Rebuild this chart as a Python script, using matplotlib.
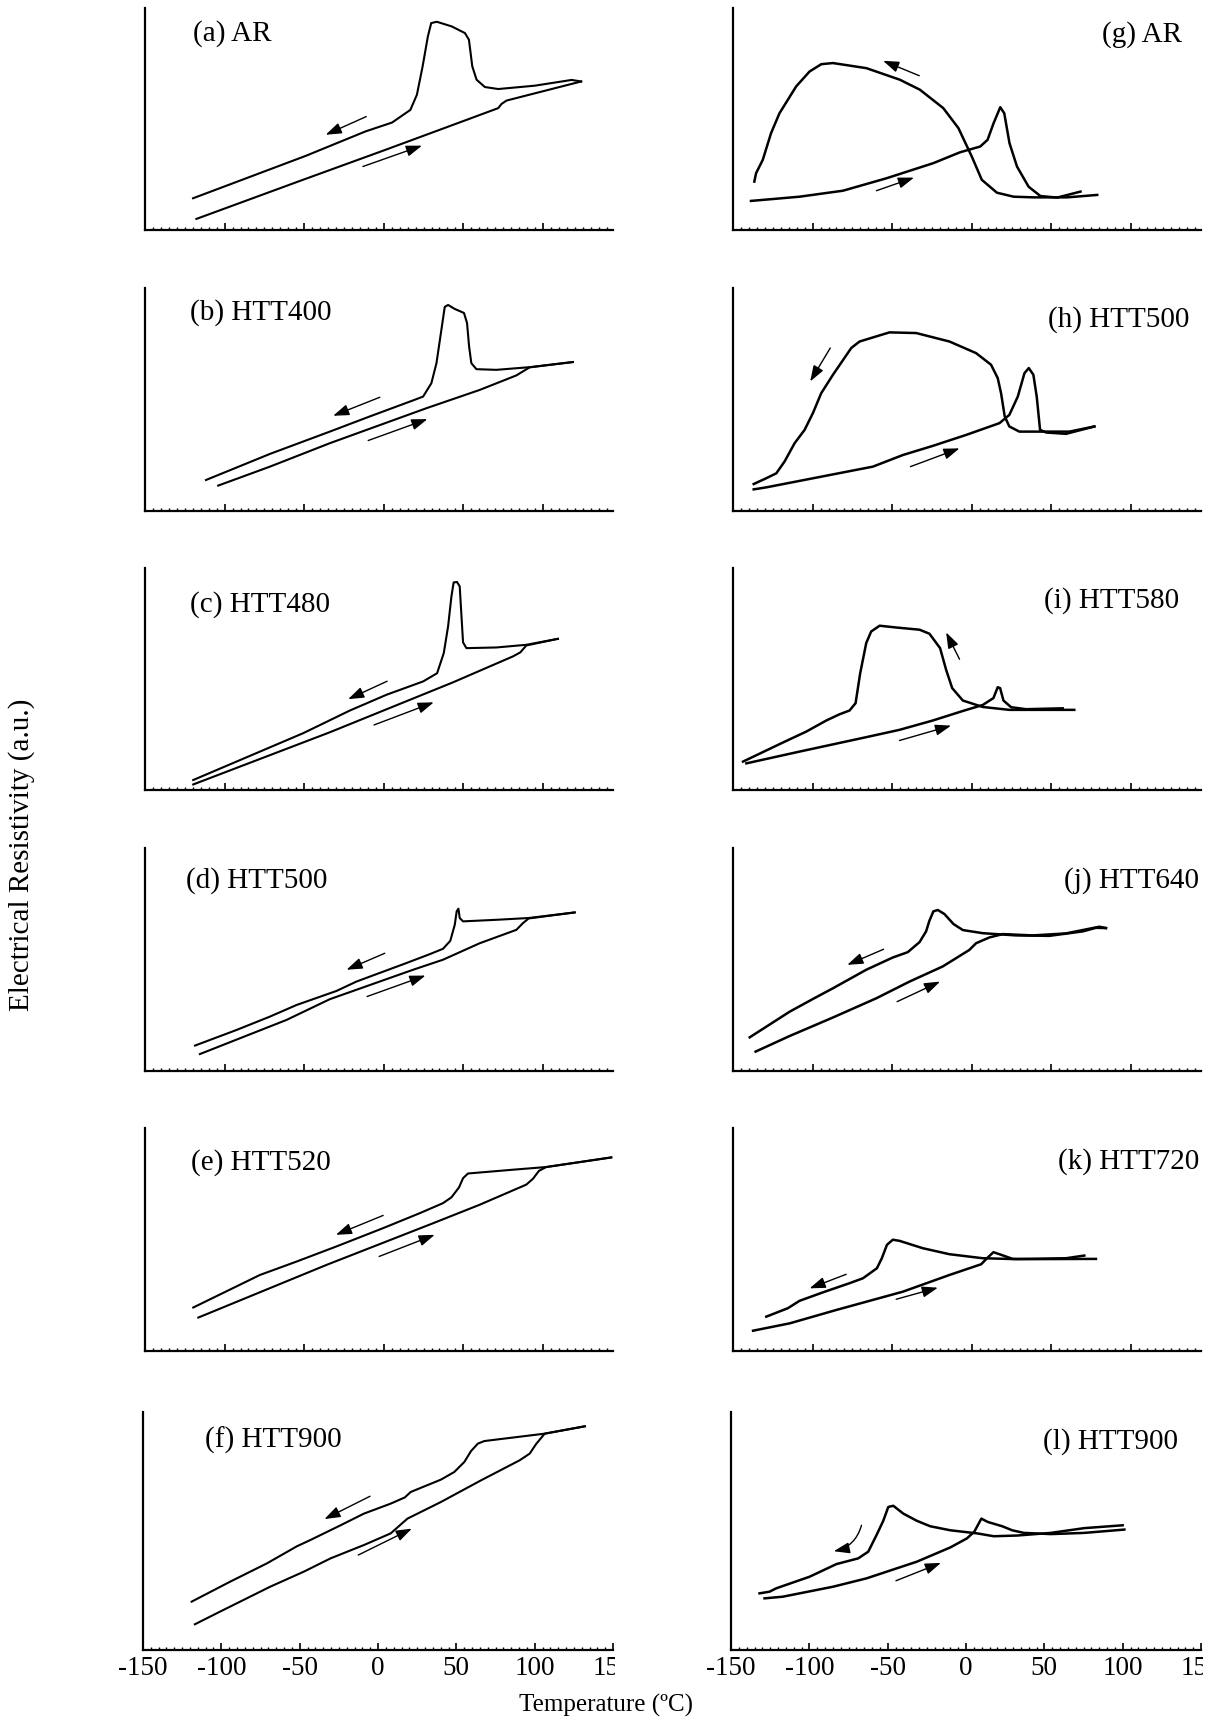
import matplotlib
matplotlib.use("Agg")
import matplotlib.pyplot as plt
from matplotlib.ticker import MultipleLocator, NullLocator
from matplotlib.transforms import Bbox, TransformedBbox

plt.rcParams["font.family"] = ["Liberation Serif", "DejaVu Serif"]

# (a) AR
A_HEAT_T = [-117.7, -53.1, 1.0, 53.1, 71.9, 74.0, 77.1, 124.0]
A_HEAT_R = [5.0, 22.0, 36.1, 49.9, 54.9, 56.8, 58.3, 66.9]
A_COOL_T = [124.0, 118.0, 94.8, 71.9, 63.5, 58.3, 55.6, 53.5, 51.0, 42.7, 33.3, 29.8,
            27.7, 24.4, 20.8, 16.7, 5.2, -11.5, -49.0, -119.8]
A_COOL_R = [66.9, 67.6, 65.0, 63.5, 64.4, 67.7, 73.7, 85.7, 88.7, 91.7, 93.8, 93.2,
            87.2, 73.7, 60.9, 54.1, 48.4, 44.4, 33.4, 14.3]

# (b) HTT400
B_HEAT_T = [-104.0, -71.5, -33.9, 26.8, 60.3, 83.3, 87.4, 91.6, 118.8]
B_HEAT_R = [11.4, 19.9, 30.4, 46.1, 54.3, 60.8, 62.6, 64.4, 66.8]
B_COOL_T = [118.8, 91.6, 70.7, 58.2, 55.0, 53.6, 52.3, 50.4, 44.6, 40.4, 38.3, 36.2,
            33.1, 29.9, 24.7, 18.4, -8.8, -33.9, -71.5, -111.7]
B_COOL_R = [66.8, 64.5, 63.3, 63.6, 66.3, 73.8, 84.3, 88.8, 90.6, 92.4, 91.5, 81.3,
            66.3, 57.3, 51.3, 49.6, 42.4, 35.6, 25.6, 13.9]

# (c) HTT480
C_HEAT_T = [-119.7, -33.9, 43.5, 81.2, 85.8, 89.5, 109.4]
C_HEAT_R = [2.5, 26.0, 48.5, 60.2, 62.0, 65.1, 68.1]
C_COOL_T = [109.4, 89.5, 70.7, 51.9, 49.8, 48.7, 47.7, 46.0, 43.9, 42.5, 40.4, 37.7,
            33.5, 24.7, 1.7, -21.3, -50.6, -119.7]
C_COOL_R = [68.1, 65.4, 64.2, 63.9, 66.5, 79.7, 91.7, 93.7, 93.5, 87.2, 73.7, 61.7,
            52.6, 48.9, 42.9, 35.8, 25.6, 4.5]

# (d) HTT500
D_HEAT_T = [-115.5, -61.1, -33.9, 18.4, 37.2, 60.3, 83.3, 87.4, 91.0, 119.9]
D_HEAT_R = [7.6, 22.9, 32.2, 45.4, 49.9, 57.3, 63.3, 66.3, 68.4, 71.1]
D_COOL_T = [119.9, 91.0, 70.7, 49.8, 47.7, 46.9, 45.8, 44.6, 41.8, 37.2, 28.9, 14.2,
            -17.2, -29.7, -54.8, -71.5, -92.5, -118.6]
D_COOL_R = [71.1, 68.6, 67.8, 67.1, 68.6, 72.8, 71.6, 65.6, 58.4, 54.8, 52.4, 48.4,
            40.1, 35.9, 29.6, 24.4, 18.4, 11.4]

# (e) HTT520
E_HEAT_T = [-116.5, -36.0, 31.0, 60.3, 89.5, 93.7, 97.5, 102.1, 142.9]
E_HEAT_R = [15.0, 38.6, 57.3, 65.6, 74.6, 77.2, 80.8, 82.5, 86.8]
E_COOL_T = [142.9, 102.1, 81.2, 52.9, 49.8, 47.3, 42.5, 37.2, 22.6, -0.4, -29.7,
            -54.8, -77.8, -119.7]
E_COOL_R = [86.8, 82.5, 81.3, 79.6, 77.5, 73.4, 68.9, 66.3, 61.8, 55.1, 46.9,
            40.1, 34.1, 19.5]

# (f) HTT900
F_HEAT_T = [-116.9, -100.9, -68.8, -47.4, -30.3, -9.0, 8.1, 18.8, 40.2, 65.8, 90.4,
            96.8, 101.1, 106.4, 132.1]
F_HEAT_R = [10.8, 16.1, 26.6, 32.9, 38.5, 44.1, 49.0, 55.2, 62.2, 71.3, 79.7,
            82.5, 86.7, 90.9, 94.0]
F_COOL_T = [132.1, 106.4, 67.9, 63.7, 59.4, 55.1, 48.7, 40.2, 20.9, 17.1, 8.1, -9.0,
            -23.9, -43.2, -51.7, -70.9, -94.4, -119.0]
F_COOL_R = [94.0, 90.9, 87.8, 86.7, 83.6, 79.0, 74.8, 71.6, 66.4, 64.1, 61.5, 57.3,
            52.4, 46.2, 43.6, 36.4, 28.7, 20.3]

# (g) AR
G_HEAT_T = [-138.7, -108.2, -80.9, -53.6, -24.2, -7.4, 5.3, 9.9, 13.7, 17.9, 20.4,
            23.7, 28.4, 35.7, 43.1, 53.6, 68.3]
G_HEAT_R = [13.1, 15.0, 17.7, 23.3, 30.1, 35.0, 37.6, 40.6, 48.1, 55.3, 52.6,
            39.1, 28.6, 19.5, 15.3, 14.6, 17.3]
G_COOL_T = [78.8, 59.9, 38.9, 26.3, 15.8, 6.3, 0.0, -8.4, -17.9, -32.6, -45.2, -66.2,
            -87.2, -94.5, -101.9, -110.3, -120.8, -126.1, -131.3, -135.5, -136.6]
G_COOL_R = [15.8, 14.7, 14.7, 15.0, 16.8, 22.6, 33.1, 45.9, 54.9, 63.2, 67.7, 72.9,
            75.2, 74.7, 71.4, 64.7, 52.6, 43.6, 31.6, 25.6, 21.8]

# (h) HTT500
H_HEAT_T = [-137.0, -129.1, -62.1, -43.3, -24.5, -3.6, 17.4, 23.6, 28.9, 33.1, 35.8,
            38.7, 40.8, 42.9, 46.7, 59.2, 77.0]
H_HEAT_R = [9.7, 10.6, 19.9, 25.1, 29.2, 34.1, 39.4, 43.1, 51.3, 61.8, 64.1,
            61.1, 51.3, 36.4, 35.2, 34.6, 37.9]
H_COOL_T = [77.0, 61.3, 45.6, 29.9, 23.6, 20.7, 18.4, 16.3, 12.1, 2.7, -14.0, -34.9,
            -51.7, -70.5, -75.7, -87.2, -94.6, -99.8, -105.0, -111.3, -117.6, -122.8,
            -129.1, -137.0]
H_COOL_R = [37.9, 35.6, 35.6, 35.6, 37.9, 42.4, 52.8, 59.6, 65.6, 70.8, 76.0, 79.8,
            80.1, 76.0, 73.1, 61.1, 52.8, 43.9, 36.4, 30.4, 22.2, 16.9, 14.7, 12.1]

# (i) HTT580
I_HEAT_T = [-141.6, -108.2, -66.3, -45.4, -24.5, -5.6, 6.9, 13.6, 16.3, 17.8, 19.9,
            24.7, 34.1, 57.1]
I_HEAT_R = [12.0, 17.3, 23.8, 27.1, 31.3, 35.6, 38.3, 41.4, 46.3, 45.9, 40.3,
            37.3, 36.4, 36.8]
I_COOL_T = [64.4, 48.7, 23.6, 6.9, -5.6, -12.3, -16.1, -19.9, -26.6, -32.8, -47.5,
            -57.9, -63.2, -66.3, -70.1, -73.0, -76.8, -83.1, -91.4, -104.0, -118.6, -143.7]
I_COOL_R = [36.1, 36.1, 36.1, 37.4, 40.3, 45.9, 54.1, 63.9, 70.4, 72.2, 73.2,
            74.0, 71.4, 66.2, 52.6, 39.1, 35.8, 34.1, 31.3, 26.3, 21.4, 12.8]

# (j) HTT640
J_HEAT_T = [-135.8, -114.4, -87.2, -60.0, -39.1, -18.2, -1.5, 2.7, 11.1, 19.5, 38.3,
            59.2, 80.1, 84.3]
J_HEAT_R = [8.7, 15.7, 24.0, 32.6, 40.1, 46.9, 54.3, 57.3, 59.9, 61.4, 60.8,
            61.7, 64.7, 64.1]
J_COOL_T = [84.3, 78.0, 69.7, 48.7, 27.8, 6.9, -5.6, -11.5, -17.2, -21.3, -24.1, -26.6,
            -28.7, -32.8, -40.2, -49.6, -66.3, -87.2, -99.8, -114.4, -139.5]
J_COOL_R = [64.1, 64.2, 62.6, 60.6, 60.8, 61.8, 63.2, 65.9, 70.4, 72.2, 71.6, 67.4,
            62.6, 57.8, 53.3, 50.9, 45.4, 37.1, 32.3, 26.6, 15.1]

# (k) HTT720
K_HEAT_T = [-137.4, -114.4, -85.1, -43.3, -14.0, 5.9, 10.0, 13.6, 17.4, 25.7, 40.4, 78.0]
K_HEAT_R = [9.1, 12.4, 18.4, 26.6, 34.1, 38.9, 41.9, 44.3, 43.4, 41.3, 41.2, 41.3]
K_COOL_T = [70.7, 59.2, 27.8, 6.9, -14.0, -30.8, -45.4, -49.6, -53.3, -56.5, -59.6,
            -68.4, -76.8, -93.5, -108.2, -115.5, -129.1]
K_COOL_R = [42.8, 41.6, 41.2, 41.6, 43.4, 46.1, 49.4, 49.9, 47.6, 41.6, 37.1,
            32.6, 30.4, 26.3, 22.5, 19.2, 15.4]

# (l) HTT900
L_HEAT_T = [-128.6, -116.9, -84.8, -63.5, -31.4, -10.0, 0.6, 5.3, 9.8, 13.9, 23.1,
            29.5, 37.0, 54.1, 75.4, 101.1]
L_HEAT_R = [21.7, 22.4, 26.6, 30.1, 37.1, 43.1, 46.9, 49.7, 55.2, 53.8, 52.0,
            50.3, 49.2, 48.7, 49.2, 50.6]
L_COOL_T = [100.0, 75.4, 54.1, 32.7, 17.7, 7.1, -10.0, -22.9, -31.4, -40.0, -46.4,
            -49.6, -52.8, -57.1, -62.4, -68.8, -82.7, -99.8, -121.2, -125.4, -131.8]
L_COOL_R = [52.4, 51.2, 49.2, 48.1, 47.8, 49.0, 50.3, 52.0, 54.3, 57.3, 60.6,
            60.1, 54.3, 48.3, 41.3, 38.5, 36.1, 30.8, 25.9, 24.5, 23.8]

LABELS = ["(a) AR", "(b) HTT400", "(c) HTT480", "(d) HTT500", "(e) HTT520", "(f) HTT900",
          "(g) AR", "(h) HTT500", "(i) HTT580", "(j) HTT640", "(k) HTT720", "(l) HTT900"]
# label anchor (T, R): left column anchored at left, right column at right
LABEL_POS = [(-119.8, 88.5), (-122, 88.8), (-122, 83.5), (-124, 85.5), (-121.3, 84.3),
             (-110.5, 88.1), (132, 88.0), (136.6, 86.0), (130.5, 85.2), (143.0, 85.5),
             (143.0, 85.0), (135.3, 87.4)]

# direction arrows: (cooling start, cooling end), (heating start, heating end)
ARROWS = [
    [((-11.0, 51.1), (-36.5, 42.9)), ((-13.1, 28.6), (24.0, 38.0))],
    [((-2.5, 51.0), (-31.8, 42.7)), ((-9.8, 31.6), (27.4, 41.2))],
    [((2.1, 49.0), (-22.4, 40.9)), ((-6.1, 29.3), (31.4, 39.5))],
    [((0.6, 52.8), (-23.4, 45.4)), ((-10.5, 33.4), (26.2, 42.8))],
    [((-0.4, 60.8), (-30.1, 52.1)), ((-2.9, 42.4), (32.0, 52.1))],
    [((-5.1, 64.6), (-34.2, 55.0)), ((-12.6, 39.9), (21.6, 51.0))],
    [((-33.0, 69.5), (-55.7, 76.2)), ((-59.9, 17.7), (-36.3, 23.6))],
    [((-88.9, 73.1), (-101.5, 58.1)), ((-38.5, 19.9), (-7.7, 28.1))],
    [((-7.7, 58.9), (-16.1, 71.0)), ((-45.4, 22.3), (-13.0, 29.0))],
    [((-55.4, 54.6), (-78.2, 47.6)), ((-46.9, 31.1), (-19.9, 40.1))],
    [((-78.9, 34.4), (-101.9, 28.1)), ((-47.5, 23.2), (-21.3, 28.4))],
    [((-66.7, 52.4), (-84.4, 41.5)), ((-44.7, 29.1), (-16.0, 36.6))],
]

XTICKS = [-150, -100, -50, 0, 50, 100, 150]

CURVES = [
    (A_HEAT_T, A_HEAT_R, A_COOL_T, A_COOL_R), (B_HEAT_T, B_HEAT_R, B_COOL_T, B_COOL_R),
    (C_HEAT_T, C_HEAT_R, C_COOL_T, C_COOL_R), (D_HEAT_T, D_HEAT_R, D_COOL_T, D_COOL_R),
    (E_HEAT_T, E_HEAT_R, E_COOL_T, E_COOL_R), (F_HEAT_T, F_HEAT_R, F_COOL_T, F_COOL_R),
    (G_HEAT_T, G_HEAT_R, G_COOL_T, G_COOL_R), (H_HEAT_T, H_HEAT_R, H_COOL_T, H_COOL_R),
    (I_HEAT_T, I_HEAT_R, I_COOL_T, I_COOL_R), (J_HEAT_T, J_HEAT_R, J_COOL_T, J_COOL_R),
    (K_HEAT_T, K_HEAT_R, K_COOL_T, K_COOL_R), (L_HEAT_T, L_HEAT_R, L_COOL_T, L_COOL_R),
]

# ---- layout (pixels of the 1216 x 1718 canvas) ----
W, H = 1216, 1718
COLS = [(143, 613), (731, 1201)]
ROWS = [(8, 230), (288, 511), (568, 790), (848, 1071), (1128, 1351), (1412, 1650)]

fig = plt.figure(figsize=(W / 100, H / 100), dpi=100)

bottom_axes = []
for k, (heat_t, heat_r, cool_t, cool_r) in enumerate(CURVES):
    col, row = divmod(k, 6)
    x0, x1 = COLS[col]
    yt, yb = ROWS[row]
    last = row == 5
    # upper panels in the source are scaled a little wider: axis stops near 144 C
    if not last:
        x0 += 2
    ax = fig.add_axes([x0 / W, 1 - yb / H, (x1 - x0) / W, (yb - yt) / H])
    lw = 1.5 if col == 0 else 1.8

    ax.plot(heat_t, heat_r, color="k", lw=lw, solid_joinstyle="round")
    ax.plot(cool_t, cool_r, color="k", lw=lw, solid_joinstyle="round")

    for i, (start, end) in enumerate(ARROWS[k]):
        rad = -0.3 if (k == 11 and i == 0) else 0.0
        ax.annotate("", xy=end, xytext=start,
                    arrowprops=dict(arrowstyle="-|>,head_length=0.8,head_width=0.28",
                                    lw=1.0, color="k", shrinkA=0, shrinkB=0,
                                    mutation_scale=12,
                                    connectionstyle=f"arc3,rad={rad}"))

    tx, ty = LABEL_POS[k]
    ax.text(tx, ty, LABELS[k], ha="left" if col == 0 else "right", va="center",
            fontsize=21)

    for s in ("top", "right"):
        ax.spines[s].set_visible(False)
    for s in ("left", "bottom"):
        ax.spines[s].set_linewidth(1.6)
    ax.yaxis.set_major_locator(NullLocator())
    ax.set_xticks(XTICKS)
    ax.set_xlim(-150, 150 if last else 144)
    ax.set_ylim(0, 100)
    ax.xaxis.set_minor_locator(MultipleLocator(5))
    ax.tick_params(axis="x", which="major", direction="in", length=5, width=1.2,
                   labelsize=19.5, pad=4)
    ax.tick_params(axis="x", which="minor", direction="in", length=2.2, width=1.0)
    if last:
        ax.set_xticklabels([str(t) for t in XTICKS])
        bottom_axes.append(ax)
    else:
        ax.tick_params(axis="x", labelbottom=False)

fig.text(606 / W, 1 - 1705 / H, "Temperature (ºC)", ha="center", va="center", fontsize=18)
fig.text(22 / W, 1 - 855 / H, "Electrical Resistivity (a.u.)", rotation=90,
         ha="center", va="center", fontsize=21)

# the source crops the "150" label at the end of each axis
fig.canvas.draw()
for ax in bottom_axes:
    pos = ax.get_position()
    clip = TransformedBbox(Bbox([[0, 0], [pos.x1 + 1.5 / W, 1]]), fig.transFigure)
    for lbl in ax.get_xticklabels():
        lbl.set_clip_box(clip)
        lbl.set_clip_on(True)

fig.savefig("out.png", dpi=100)
